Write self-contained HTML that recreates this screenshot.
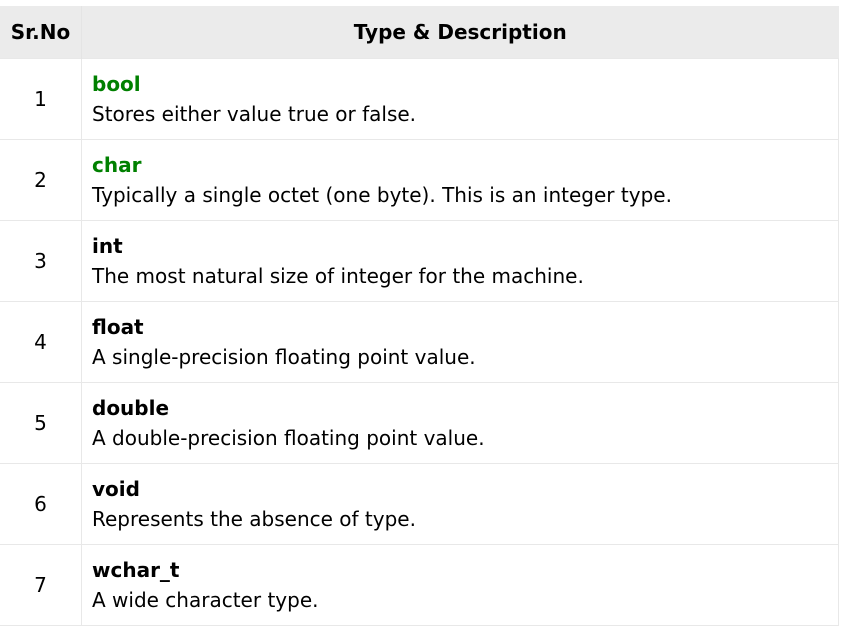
<!DOCTYPE html>
<html><head><style>
body{margin:0;background:#fff;font-family:"DejaVu Sans",Verdana,sans-serif;font-size:20px;color:#000}
table{position:absolute;left:0;top:6px;width:839px;border-collapse:collapse}
th{background:#ebebeb;height:52px;font-weight:bold;padding:0;font-size:20px}
td{border:1px solid #e8e8e8;height:80px;padding:0 10px;line-height:30px}
td:first-child{text-align:center;width:61px;border-left:none}
.g{color:#008000;font-weight:bold}
.b{font-weight:bold}
</style></head><body>
<table>
<tr><th style="width:81px;border-right:1px solid #e4e4e4">Sr.No</th><th>Type &amp; Description</th></tr>
<tr><td>1</td><td><span class="g">bool</span><br>Stores either value true or false.</td></tr>
<tr><td>2</td><td><span class="g">char</span><br>Typically a single octet (one byte). This is an integer type.</td></tr>
<tr><td>3</td><td><span class="b">int</span><br>The most natural size of integer for the machine.</td></tr>
<tr><td>4</td><td><span class="b">float</span><br>A single-precision floating point value.</td></tr>
<tr><td>5</td><td><span class="b">double</span><br>A double-precision floating point value.</td></tr>
<tr><td>6</td><td><span class="b">void</span><br>Represents the absence of type.</td></tr>
<tr><td>7</td><td><span class="b">wchar_t</span><br>A wide character type.</td></tr>
</table>
</body></html>
